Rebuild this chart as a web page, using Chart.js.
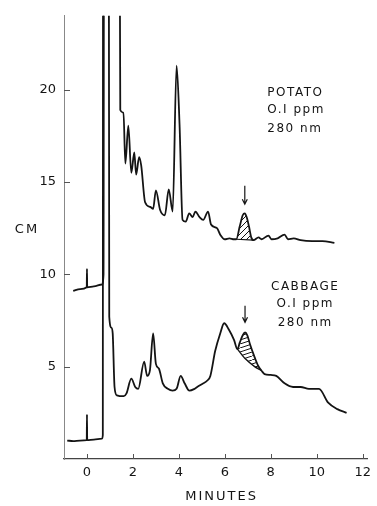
<!DOCTYPE html>
<html>
<head>
<meta charset="utf-8">
<script src="https://cdn.jsdelivr.net/npm/chart.js@4/dist/chart.umd.min.js"></script>
<style>
  html, body { margin: 0; padding: 0; background: #fff; }
  #wrap { width: 377px; height: 506px; }
</style>
</head>
<body>
<div id="wrap"><canvas id="chromatogram"></canvas></div>
<script>
// potato trace (minutes / cm)
const potatoMin = [-0.6, -0.3, -0.01, 0, 0.01, 0.3, 0.65, 0.72, 0.74, 1.42, 1.45, 1.59, 1.67, 1.8, 1.93, 2.06, 2.14, 2.27, 2.36, 2.53, 2.75, 2.88, 3.0, 3.18, 3.39, 3.56, 3.73, 3.9, 4.03, 4.16, 4.3, 4.45, 4.6, 4.72, 4.9, 5.06, 5.27, 5.4, 5.66, 5.8, 6.0, 6.2, 6.4, 6.5, 6.65, 6.78, 6.87, 6.95, 7.05, 7.15, 7.25, 7.47, 7.6, 7.9, 8.03, 8.3, 8.6, 8.75, 9.0, 9.3, 9.8, 10.25, 10.77];
const potatoCm = [9.1, 9.2, 9.3, 10.3, 9.3, 9.35, 9.45, 10.0, 30, 30, 18.9, 18.75, 16.0, 18.05, 15.5, 16.6, 15.4, 16.35, 15.9, 13.9, 13.65, 13.55, 14.55, 13.5, 13.2, 14.6, 13.4, 21.3, 18.1, 12.95, 12.85, 13.3, 13.1, 13.4, 13.1, 12.95, 13.4, 12.7, 12.5, 12.15, 11.9, 11.95, 11.9, 11.9, 12.6, 13.2, 13.3, 13.1, 12.6, 12.0, 11.85, 12.0, 11.9, 12.1, 11.9, 11.95, 12.15, 11.9, 11.95, 11.85, 11.8, 11.8, 11.7];
const potatoBaseMin = [6.5, 7.25];
const potatoBaseCm = [11.9, 11.85];

// cabbage trace
const cabbageMin = [-0.86, -0.6, -0.3, -0.01, 0, 0.01, 0.3, 0.65, 0.69, 0.7, 0.95, 0.97, 1.07, 1.12, 1.2, 1.3, 1.6, 1.72, 1.93, 2.1, 2.23, 2.49, 2.62, 2.74, 2.88, 3.0, 3.13, 3.3, 3.52, 3.73, 3.9, 4.08, 4.25, 4.46, 4.68, 4.8, 5.0, 5.24, 5.37, 5.58, 5.8, 5.97, 6.18, 6.4, 6.55, 6.65, 6.78, 6.88, 6.98, 7.1, 7.3, 7.45, 7.6, 7.73, 8.0, 8.24, 8.6, 8.97, 9.3, 9.66, 10.1, 10.5, 10.9, 11.3];
const cabbageCm = [1.0, 0.97, 1.0, 1.02, 2.4, 1.02, 1.05, 1.1, 1.3, 30, 30, 7.7, 7.1, 6.8, 3.9, 3.45, 3.4, 3.55, 4.35, 3.9, 3.8, 5.27, 4.5, 4.8, 6.8, 5.15, 4.9, 4.1, 3.8, 3.7, 3.8, 4.5, 4.1, 3.7, 3.8, 3.9, 4.05, 4.25, 4.5, 5.85, 6.8, 7.35, 7.0, 6.45, 5.95, 6.3, 6.7, 6.85, 6.7, 6.2, 5.5, 5.05, 4.78, 4.6, 4.55, 4.5, 4.1, 3.9, 3.9, 3.8, 3.8, 3.05, 2.7, 2.5];
const cabbageBaseMin = [6.55, 6.87, 7.3, 7.6];
const cabbageBaseCm = [5.95, 5.45, 5.0, 4.78];

// arrows marking the hatched peaks
const arrowMin = [6.87, 6.88];
const arrowTopCm = [14.8, 8.3];
const arrowTipCm = [13.8, 7.4];

const xTickValues = [0, 2, 4, 6, 8, 10, 12];
const yTickValues = [5, 10, 15, 20];

const potatoLabel = ['POTATO', 'O.I ppm', '280 nm'];
const cabbageLabel = ['CABBAGE', 'O.I ppm', '280 nm'];

const ink = '#141414';
const textFont = '12px "DejaVu Sans"';

function pts(xs, ys) {
  return xs.map((x, i) => ({ x: x, y: ys[i] }));
}

function hatch(w, h) {
  const c = document.createElement('canvas');
  c.width = w; c.height = h;
  const g = c.getContext('2d');
  g.strokeStyle = ink;
  g.lineWidth = 1;
  for (let k = -1; k <= 1; k++) {
    g.beginPath();
    g.moveTo(k * w, h);
    g.lineTo(k * w + w, 0);
    g.stroke();
  }
  return g.createPattern(c, 'repeat');
}

// inward ticks, axis titles, sample labels and arrows
const decorations = {
  id: 'decorations',
  afterDraw(chart) {
    const ctx = chart.ctx;
    const xs = chart.scales.x, ys = chart.scales.y;
    const area = chart.chartArea;
    ctx.save();
    ctx.strokeStyle = '#555';
    ctx.lineWidth = 1;
    xTickValues.forEach(v => {
      const px = Math.round(xs.getPixelForValue(v)) + 0.5;
      ctx.beginPath();
      ctx.moveTo(px, area.bottom);
      ctx.lineTo(px, area.bottom - 5);
      ctx.stroke();
    });
    yTickValues.forEach(v => {
      const py = Math.round(ys.getPixelForValue(v)) + 0.5;
      ctx.beginPath();
      ctx.moveTo(area.left, py);
      ctx.lineTo(area.left + 6, py);
      ctx.stroke();
    });

    ctx.fillStyle = ink;
    ctx.font = '13px "DejaVu Sans"';
    ctx.letterSpacing = '2px';
    ctx.textBaseline = 'middle';
    ctx.textAlign = 'center';
    ctx.fillText('CM', 27, ys.getPixelForValue(12.4));
    ctx.fillText('MINUTES', (area.left + area.right) / 2 + 6, 497);

    ctx.font = textFont;
    ctx.letterSpacing = '1.5px';
    ctx.textAlign = 'left';
    const potatoY = [19.85, 18.9, 17.85];
    potatoLabel.forEach((t, i) => ctx.fillText(t, xs.getPixelForValue(7.85), ys.getPixelForValue(potatoY[i])));
    ctx.textAlign = 'center';
    const cabbageY = [9.3, 8.4, 7.37];
    cabbageLabel.forEach((t, i) => ctx.fillText(t, xs.getPixelForValue(9.5), ys.getPixelForValue(cabbageY[i])));

    ctx.strokeStyle = ink;
    ctx.lineWidth = 1.2;
    arrowMin.forEach((m, i) => {
      const px = xs.getPixelForValue(m);
      const top = ys.getPixelForValue(arrowTopCm[i]);
      const tip = ys.getPixelForValue(arrowTipCm[i]);
      ctx.beginPath();
      ctx.moveTo(px, top);
      ctx.lineTo(px, tip);
      ctx.moveTo(px - 2.5, tip - 5);
      ctx.lineTo(px, tip);
      ctx.lineTo(px + 2.5, tip - 5);
      ctx.stroke();
    });
    ctx.restore();
  }
};

const traceStyle = {
  borderColor: ink,
  borderWidth: 1.8,
  pointRadius: 0,
  cubicInterpolationMode: 'monotone',
  fill: false
};

const ctx = document.getElementById('chromatogram').getContext('2d');
const chart = new Chart(ctx, {
  type: 'line',
  data: {
    datasets: [
      Object.assign({ label: 'Potato', data: pts(potatoMin, potatoCm) }, traceStyle),
      Object.assign({ label: 'Cabbage', data: pts(cabbageMin, cabbageCm) }, traceStyle),
      {
        label: 'Potato base',
        data: pts(potatoBaseMin, potatoBaseCm),
        borderColor: ink, borderWidth: 1.2, pointRadius: 0,
        backgroundColor: hatch(6, 6),
        fill: { target: 0 }
      },
      {
        label: 'Cabbage base',
        data: pts(cabbageBaseMin, cabbageBaseCm),
        borderColor: ink, borderWidth: 1.4, pointRadius: 0, tension: 0.2,
        backgroundColor: hatch(12, 4),
        fill: { target: 1 }
      }
    ]
  },
  options: {
    responsive: true,
    maintainAspectRatio: false,
    animation: false,
    layout: { padding: { top: 13, right: 5, left: 0, bottom: 0 } },
    plugins: {
      legend: { display: false },
      tooltip: { enabled: false },
      filler: { propagate: false }
    },
    scales: {
      x: {
        type: 'linear',
        min: -1,
        max: 12.2,
        afterBuildTicks: s => { s.ticks = xTickValues.map(v => ({ value: v })); },
        afterFit: s => { s.height = 47; },
        grid: { display: true, drawOnChartArea: false, drawTicks: false },
        border: { display: true, color: '#444', width: 1.2 },
        ticks: { color: ink, font: { family: 'DejaVu Sans', size: 13 }, padding: 6, maxRotation: 0 }
      },
      y: {
        type: 'linear',
        min: 0,
        max: 24,
        afterBuildTicks: s => { s.ticks = yTickValues.map(v => ({ value: v })); },
        afterFit: s => { s.width = 64; },
        grid: { display: true, drawOnChartArea: false, drawTicks: false },
        border: { display: true, color: '#888', width: 1 },
        ticks: { color: ink, font: { family: 'DejaVu Sans', size: 13 }, padding: 8 }
      }
    }
  },
  plugins: [decorations]
});
</script>
</body>
</html>
